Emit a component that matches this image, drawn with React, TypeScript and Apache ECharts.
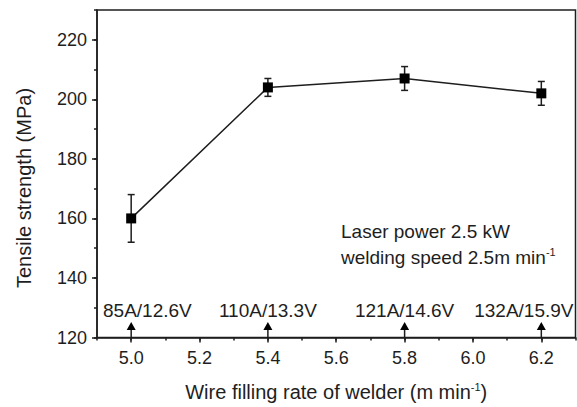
import React, { useEffect, useRef } from "react";
import * as echarts from "echarts";

const rates = [5.0, 5.4, 5.8, 6.2];
const strength = [160, 204, 207, 202];
const errors = [8, 3, 4, 4];
const currentVoltage = ["85A/12.6V", "110A/13.3V", "121A/14.6V", "132A/15.9V"];
const xMajorTicks = [5.0, 5.2, 5.4, 5.6, 5.8, 6.0, 6.2];
const yMajorTicks = [120, 140, 160, 180, 200, 220];
const infoLines = ["Laser power 2.5 kW", "welding speed 2.5m min"];

const FONT = "Liberation Sans";
const INK = "#1e1e1e";

export default function App() {
  const ref = useRef<HTMLDivElement>(null);
  useEffect(() => {
    if (!ref.current) return;
    const chart = echarts.init(ref.current, null, { renderer: "svg" });
    const errData = rates.map((r, i) => [r, strength[i] - errors[i], strength[i] + errors[i]]);
    const arrowData = rates.map((r) => [r, 120]);
    chart.setOption({
      animation: false,
      textStyle: { fontFamily: FONT, color: INK },
      grid: {
        left: 97,
        right: 1.5,
        top: 10,
        bottom: 67,
        show: true,
        borderColor: INK,
        borderWidth: 1.5,
        containLabel: false,
      },
      xAxis: [
        {
          type: "value",
          min: 4.9,
          max: 6.3,
          name: "{b|Wire filling rate of welder (m min}{s|-1}{b|)}",
          nameLocation: "middle",
          nameGap: 44,
          nameTextStyle: {
            fontFamily: FONT,
            color: INK,
            rich: {
              b: { fontSize: 20, fontFamily: FONT, color: INK },
              s: { fontSize: 11, fontFamily: FONT, color: INK, padding: [0, 0, 10, 0] },
            },
          },
          axisLine: { show: true, lineStyle: { color: INK, width: 1.5 } },
          axisTick: {
            show: true,
            inside: false,
            length: 5,
            customValues: xMajorTicks,
            lineStyle: { color: INK, width: 1.5 },
          },
          axisLabel: {
            customValues: xMajorTicks,
            fontSize: 18,
            color: INK,
            fontFamily: FONT,
            margin: 11,
            formatter: (v: number) => v.toFixed(1),
          },
          splitLine: { show: false },
        },
        {
          type: "value",
          min: 4.9,
          max: 6.3,
          interval: 0.1,
          position: "bottom",
          offset: 0,
          axisLine: { show: false },
          axisTick: {
            show: true,
            inside: false,
            length: 3,
            lineStyle: { color: INK, width: 1.5 },
          },
          axisLabel: { show: false },
          splitLine: { show: false },
        },
      ],
      yAxis: [
        {
          type: "value",
          min: 120,
          max: 230,
          interval: 20,
          axisLine: { show: true, lineStyle: { color: INK, width: 1.5 } },
          axisTick: {
            show: true,
            inside: false,
            length: 5,
            customValues: yMajorTicks,
            lineStyle: { color: INK, width: 1.5 },
          },
          axisLabel: {
            customValues: yMajorTicks,
            fontSize: 18,
            color: INK,
            fontFamily: FONT,
            margin: 10,
          },
          splitLine: { show: false },
        },
        {
          type: "value",
          min: 120,
          max: 230,
          interval: 10,
          position: "left",
          offset: 0,
          axisLine: { show: false },
          axisTick: {
            show: true,
            inside: false,
            length: 3,
            lineStyle: { color: INK, width: 1.5 },
          },
          axisLabel: { show: false },
          splitLine: { show: false },
        },
      ],
      graphic: [
        {
          type: "text",
          x: 24,
          y: 188,
          rotation: Math.PI / 2,
          style: {
            text: "Tensile strength (MPa)",
            fontSize: 20,
            fontFamily: FONT,
            fill: INK,
            align: "center",
            verticalAlign: "middle",
          },
        },
        {
          type: "text",
          x: 341,
          y: 231,
          style: {
            text: infoLines[0],
            fontSize: 19,
            fontFamily: FONT,
            fill: INK,
            align: "left",
            verticalAlign: "middle",
          },
        },
        {
          type: "text",
          x: 341,
          y: 257,
          style: {
            text: "{b|" + infoLines[1] + "}{s|-1}",
            fontFamily: FONT,
            fill: INK,
            align: "left",
            verticalAlign: "middle",
            rich: {
              b: { fontSize: 19, fontFamily: FONT, fill: INK },
              s: { fontSize: 11, fontFamily: FONT, fill: INK, padding: [0, 0, 10, 0] },
            },
          },
        },
      ],
      series: [
        {
          type: "line",
          data: rates.map((r, i) => [r, strength[i]]),
          symbol: "rect",
          symbolSize: 10,
          lineStyle: { color: INK, width: 1.5 },
          itemStyle: { color: "#000", borderWidth: 0 },
          z: 5,
        },
        {
          type: "custom",
          data: errData,
          z: 4,
          renderItem: (params: any, api: any) => {
            const x = api.value(0);
            const lo = api.coord([x, api.value(1)]);
            const hi = api.coord([x, api.value(2)]);
            const cap = 3.5;
            const ls = { stroke: INK, lineWidth: 1.5 };
            return {
              type: "group",
              children: [
                { type: "line", shape: { x1: lo[0], y1: lo[1], x2: hi[0], y2: hi[1] }, style: ls },
                { type: "line", shape: { x1: lo[0] - cap, y1: lo[1], x2: lo[0] + cap, y2: lo[1] }, style: ls },
                { type: "line", shape: { x1: hi[0] - cap, y1: hi[1], x2: hi[0] + cap, y2: hi[1] }, style: ls },
              ],
            };
          },
        },
        {
          type: "custom",
          data: arrowData,
          z: 6,
          clip: false,
          renderItem: (params: any, api: any) => {
            const p = api.coord([api.value(0), api.value(1)]);
            const cs = params.coordSys;
            const i = params.dataIndex;
            const n = arrowData.length;
            let tx = p[0];
            let align = "center";
            if (i === 0) {
              tx = cs.x + 6;
              align = "left";
            } else if (i === n - 1) {
              tx = cs.x + cs.width - 2;
              align = "right";
            }
            return {
              type: "group",
              children: [
                {
                  type: "line",
                  shape: { x1: p[0], y1: p[1], x2: p[0], y2: p[1] - 9 },
                  style: { stroke: INK, lineWidth: 1.5 },
                },
                {
                  type: "polygon",
                  shape: {
                    points: [
                      [p[0] - 4.5, p[1] - 7.5],
                      [p[0] + 4.5, p[1] - 7.5],
                      [p[0], p[1] - 15.5],
                    ],
                  },
                  style: { fill: "#000" },
                },
                {
                  type: "text",
                  x: tx,
                  y: p[1] - 27,
                  style: {
                    text: currentVoltage[i],
                    fontSize: 19,
                    fontFamily: FONT,
                    fill: INK,
                    align,
                    verticalAlign: "middle",
                  },
                },
              ],
            };
          },
        },
      ],
    });
    return () => chart.dispose();
  }, []);
  return <div ref={ref} style={{ width: 577, height: 407, position: "absolute", left: 0, top: 0, background: "#fff" }} />;
}
